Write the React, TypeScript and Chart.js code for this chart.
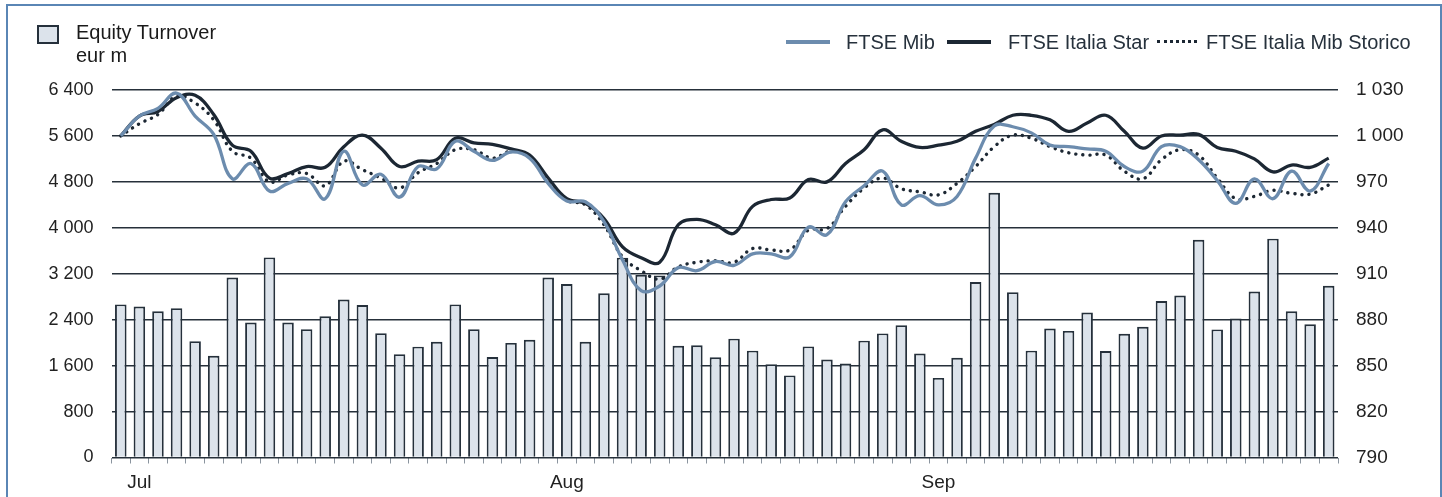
import React, { useEffect, useRef } from "react";
import { Chart, registerables } from "chart.js";

Chart.register(...registerables);

const DAY_LABELS: string[] = Array.from({ length: 66 }, () => "");
DAY_LABELS[1] = "Jul";
DAY_LABELS[24] = "Aug";
DAY_LABELS[44] = "Sep";

const TURNOVER = [
  2665, 2630, 2545, 2600, 2025, 1770, 3135, 2350, 3485, 2350, 2235, 2460, 2750, 2655, 2165, 1800, 1930, 2015, 2665, 2235, 1750, 1995, 2050,
  3135, 3020, 2015, 2860, 3480, 3180, 3170, 1945, 1955, 1745, 2070, 1860, 1625, 1430, 1935, 1705, 1635, 2035, 2160, 2305, 1810,
  1385, 1735, 3055, 4610, 2880, 1860, 2245, 2205, 2525, 1855, 2155, 2275, 2725, 2820, 3790, 2230, 2420, 2890, 3810, 2545, 2320, 2990,
];

const FTSE_MIB = [
  1000, 1013, 1018, 1028, 1013, 1001, 972, 982, 964, 969, 972, 959, 990, 968, 975, 960, 980, 978.5, 996.5, 990, 984, 989.5, 985.5,
  969, 957.5, 957, 944, 919, 899, 902, 914, 912, 918, 915.5, 923, 923, 921, 940.5, 935.5, 957, 967.5, 977, 955, 961,
  955, 960.5, 985.5, 1006.5, 1006, 1002, 994, 993, 991.5, 990, 980, 977, 993, 993, 984.5, 971, 956, 972, 959, 977, 964, 982,
];

const FTSE_STAR = [
  1000, 1013, 1016, 1025, 1026.5, 1014, 994, 990, 972.5, 975.5, 980, 979.5, 993, 1000.5, 992, 980, 983.5, 984.5, 998.5, 995.5, 994.5, 991.5, 987.5,
  972.5, 959, 956, 946, 927.5, 920.5, 917.5, 942, 945.5, 942, 936.5, 954, 958.5, 959.5, 971.5, 970, 982, 991, 1004, 996.5, 992.5,
  994, 996.5, 1003, 1007.5, 1013.5, 1013.5, 1010.5, 1003, 1008.5, 1013.5, 1003, 992, 1000, 1000.5, 1001, 992.5, 990, 985, 976.5, 981, 979.5, 985.5,
];

const FTSE_STORICO = [
  1000, 1008, 1014, 1026, 1021.5, 1010.5, 990, 985.5, 970, 974.5, 975.5, 967.5, 983.5, 978, 972.5, 966, 976, 982, 991, 991, 985.5, 990, 986.5,
  971.5, 958, 955, 942, 921, 912, 906.5, 914.5, 917.5, 918.5, 917.5, 926.5, 925.5, 925.5, 938.5, 939.5, 954, 966, 972.5, 965.5, 963.5,
  961.5, 969, 980, 993, 1000.5, 998.5, 993, 989, 987.5, 987.5, 977, 972, 984.5, 991, 987.5, 972.5, 959, 960.5, 964.5, 962.5, 962, 968,
];

const LEFT_MIN = 0;
const LEFT_MAX = 6400;
const LEFT_STEP = 800;
const RIGHT_MIN = 790;
const RIGHT_MAX = 1030;
const RIGHT_STEP = 30;

const FONT = "'Liberation Sans', Arial, sans-serif";
const DARK = "#1c2733";
const BLUE = "#6c8cae";

function fmt(v: number): string {
  const n = Math.round(v);
  if (n >= 1000) return Math.floor(n / 1000) + " " + String(n % 1000).padStart(3, "0");
  return String(n);
}

export default function App() {
  const ref = useRef<HTMLCanvasElement | null>(null);

  useEffect(() => {
    if (!ref.current) return;
    const chart = new Chart(ref.current, {
      type: "bar",
      data: {
        labels: DAY_LABELS,
        datasets: [
          {
            type: "line",
            label: "FTSE Mib",
            data: FTSE_MIB,
            yAxisID: "yR",
            borderColor: BLUE,
            backgroundColor: BLUE,
            borderWidth: 3.3,
            pointRadius: 0,
            tension: 0.4,
            order: 1,
          } as any,
          {
            type: "line",
            label: "FTSE Italia Star",
            data: FTSE_STAR,
            yAxisID: "yR",
            borderColor: DARK,
            backgroundColor: DARK,
            borderWidth: 3.3,
            pointRadius: 0,
            tension: 0.4,
            order: 2,
          } as any,
          {
            type: "line",
            label: "FTSE Italia Mib Storico",
            data: FTSE_STORICO,
            yAxisID: "yR",
            borderColor: DARK,
            backgroundColor: DARK,
            borderWidth: 3.4,
            borderDash: [0.1, 7],
            borderCapStyle: "round",
            pointRadius: 0,
            tension: 0.4,
            order: 3,
          } as any,
          {
            type: "bar",
            label: "Equity Turnover",
            data: TURNOVER,
            yAxisID: "yL",
            backgroundColor: "#dce3eb",
            borderColor: "#25303b",
            borderWidth: 1.9,
            barPercentage: 0.62,
            categoryPercentage: 1,
            order: 10,
          } as any,
        ],
      },
      options: {
        animation: false,
        responsive: false,
        maintainAspectRatio: false,
        layout: { padding: { top: 90, left: 0, right: 0, bottom: 0 } },
        plugins: { legend: { display: false }, tooltip: { enabled: false } },
        scales: {
          x: {
            type: "category",
            offset: true,
            grid: { offset: true, drawOnChartArea: false, drawTicks: true, tickLength: 6, color: "#8a949e" },
            border: { display: false },
            ticks: { autoSkip: false, maxRotation: 0, padding: 8, color: "#222", font: { family: FONT, size: 19 } },
            afterFit: (s: any) => {
              s.height = 39.5;
            },
          },
          yL: {
            position: "left",
            min: LEFT_MIN,
            max: LEFT_MAX,
            ticks: { stepSize: LEFT_STEP, padding: 18, color: "#222", font: { family: FONT, size: 18 }, callback: (v: any) => fmt(Number(v)) },
            grid: { color: "#26303a", lineWidth: 1.4, drawTicks: false },
            border: { display: false },
            afterFit: (s: any) => {
              s.width = 111.5;
            },
          },
          yR: {
            position: "right",
            min: RIGHT_MIN,
            max: RIGHT_MAX,
            ticks: { stepSize: RIGHT_STEP, padding: 18, color: "#222", font: { family: FONT, size: 19 }, callback: (v: any) => fmt(Number(v)) },
            grid: { drawOnChartArea: false, drawTicks: false },
            border: { display: false },
            afterFit: (s: any) => {
              s.width = 104;
            },
          },
        },
      } as any,
    });
    return () => chart.destroy();
  }, []);

  const textStyle: React.CSSProperties = {
    position: "absolute",
    fontFamily: FONT,
    color: "#1a1a1a",
    whiteSpace: "nowrap",
  };

  return (
    <div style={{ position: "fixed", left: 0, top: 0, width: 1442, height: 497, background: "#fff", overflow: "hidden" }}>
      <div
        style={{
          position: "absolute",
          left: 6,
          top: 4,
          width: 1436,
          height: 560,
          border: "2px solid #5a86b5",
          boxSizing: "border-box",
        }}
      />
      <canvas ref={ref} width={1442} height={497} style={{ position: "absolute", left: 0, top: 0, width: 1442, height: 497 }} />
      {/* left legend */}
      <div
        style={{
          position: "absolute",
          left: 37,
          top: 25,
          width: 22,
          height: 19,
          background: "#dce3eb",
          border: "2px solid #25303b",
          boxSizing: "border-box",
        }}
      />
      <div style={{ ...textStyle, left: 76, top: 21, fontSize: 20, lineHeight: "23px" }}>
        Equity Turnover
        <br />
        eur m
      </div>
      {/* right legend */}
      <div style={{ position: "absolute", left: 786, top: 40, width: 44, height: 4, background: BLUE }} />
      <div style={{ ...textStyle, left: 846, top: 30, fontSize: 20, lineHeight: "24px", color: "#26313c" }}>FTSE Mib</div>
      <div style={{ position: "absolute", left: 947, top: 40, width: 44, height: 4, background: DARK }} />
      <div style={{ ...textStyle, left: 1008, top: 30, fontSize: 20, lineHeight: "24px", color: "#26313c" }}>FTSE Italia Star</div>
      <div style={{ position: "absolute", left: 1157, top: 40, width: 40, height: 0, borderTop: "3px dotted " + DARK }} />
      <div style={{ ...textStyle, left: 1206, top: 30, fontSize: 20, lineHeight: "24px", color: "#26313c" }}>FTSE Italia Mib Storico</div>
    </div>
  );
}
